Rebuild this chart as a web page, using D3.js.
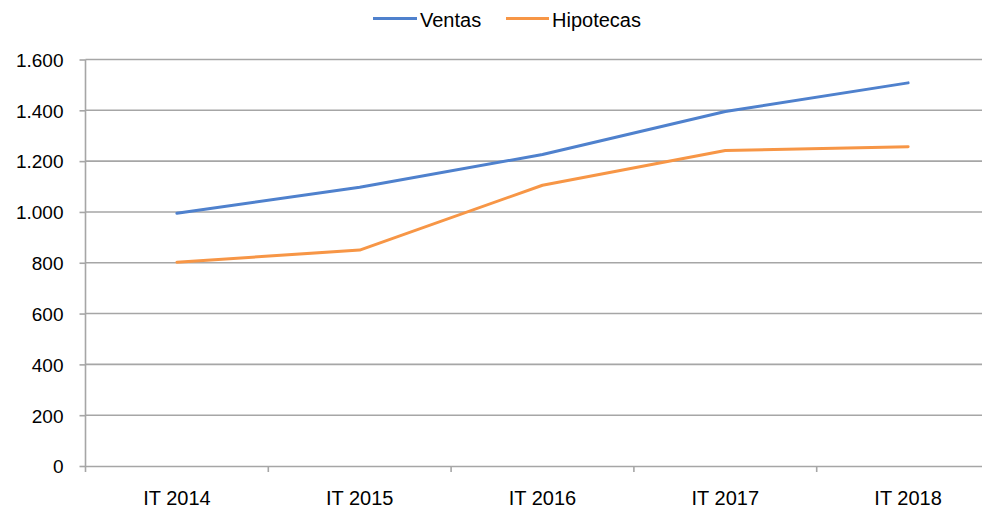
<!DOCTYPE html>
<html><head><meta charset="utf-8">
<script src="https://cdn.jsdelivr.net/npm/d3@7"></script>
<style>body{margin:0;background:#fff;}svg{display:block;font-family:"Liberation Sans",Arial,sans-serif;}</style>
</head><body>
<svg id="c" width="982" height="509"></svg>
<script>
const categories = ["IT 2014","IT 2015","IT 2016","IT 2017","IT 2018"];
const ventas = [995, 1097, 1226, 1395, 1508];
const hipotecas = [802, 850, 1105, 1242, 1257];
const yTicks = [0,200,400,600,800,1000,1200,1400,1600];
const seriesNames = ["Ventas","Hipotecas"];
const colors = ["#4f81cd","#f79646"];

(function(){
const svg = d3.select("#c");
const mL = 85.5, mR = 999.5, mT = 59.5, mB = 466;
const x = d3.scaleBand().domain(categories).range([mL,mR]);
const y = d3.scaleLinear().domain([0,1600]).range([mB,mT]);
const fmt = v => d3.format(",")(v).replace(/,/g,".");
const FF = "Liberation Sans, Arial, sans-serif";

// gridlines
svg.append("g").selectAll("line").data(yTicks.filter(d=>d>0)).join("line")
  .attr("x1",mL).attr("x2",mR).attr("y1",d=>y(d)).attr("y2",d=>y(d))
  .attr("stroke","#a6a6a6").attr("stroke-width",1.6);

// y axis
const ya = svg.append("g").attr("transform",`translate(${mL},0)`)
  .call(d3.axisLeft(y).tickValues(yTicks).tickFormat(fmt).tickSize(6).tickPadding(16));
ya.select(".domain").attr("stroke","#a6a6a6").attr("stroke-width",1.6).attr("d",`M0,${mT}V${mB}`);
ya.selectAll(".tick line").attr("stroke","#a6a6a6").attr("stroke-width",1.6);
ya.selectAll("text").attr("font-size",19).attr("fill","#000").attr("font-family",FF).attr("dy","0.36em");

// x axis
const xa = svg.append("g").attr("transform",`translate(0,${mB})`)
  .call(d3.axisBottom(x).tickSize(0).tickPadding(0));
xa.select(".domain").attr("stroke","#a6a6a6").attr("stroke-width",1.6);
xa.selectAll("text").attr("font-size",20).attr("fill","#000").attr("font-family",FF).attr("dy",0).attr("y",39);
const bounds = categories.map(c=>x(c)).concat([mR]);
xa.append("g").selectAll("line").data(bounds).join("line")
  .attr("x1",d=>d).attr("x2",d=>d).attr("y1",0).attr("y2",6)
  .attr("stroke","#a6a6a6").attr("stroke-width",1.6);

// lines
const line = d3.line().x((d,i)=>x(categories[i])+x.bandwidth()/2).y(d=>y(d));
[ventas,hipotecas].forEach((s,i)=>{
  svg.append("path").datum(s).attr("d",line).attr("fill","none")
    .attr("stroke",colors[i]).attr("stroke-width",3).attr("stroke-linecap","round").attr("stroke-linejoin","round");
});

// legend
const legendItems = [{x:373,w:44,tx:420},{x:506,w:43,tx:552}];
seriesNames.forEach((n,i)=>{
  const L = legendItems[i];
  svg.append("line").attr("x1",L.x).attr("x2",L.x+L.w).attr("y1",18.5).attr("y2",18.5)
    .attr("stroke",colors[i]).attr("stroke-width",3);
  svg.append("text").attr("x",L.tx).attr("y",26.5).attr("font-size",20).attr("font-family",FF).attr("fill","#000").text(n);
});
})();
</script>
</body></html>
